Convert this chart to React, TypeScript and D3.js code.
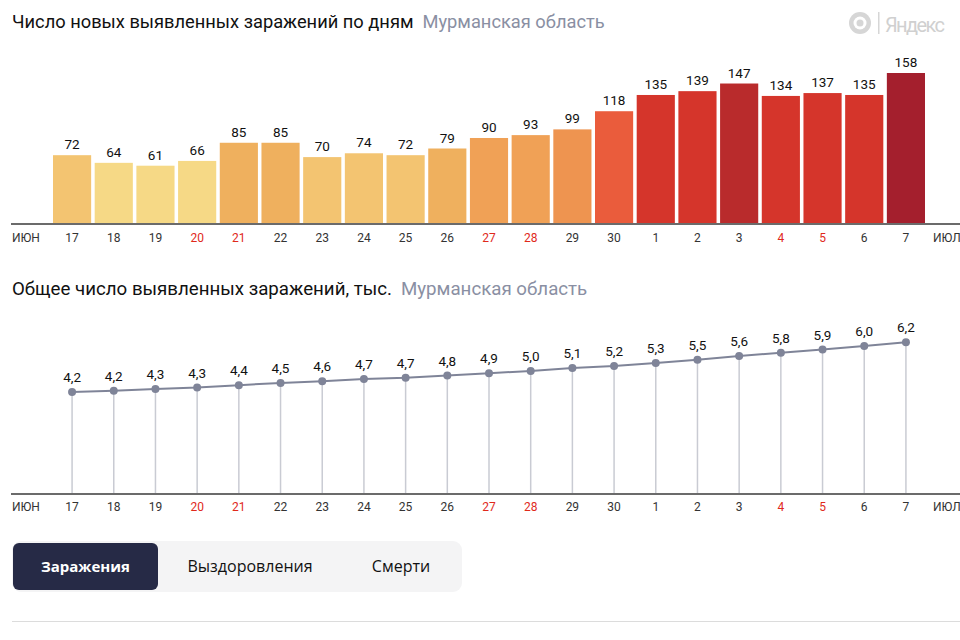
import React from "react";
import * as d3 from "d3";

const days = ["17","18","19","20","21","22","23","24","25","26","27","28","29","30","1","2","3","4","5","6","7"];
const weekend = ["20","21","27","28","4","5"];
const daily = [72,64,61,66,85,85,70,74,72,79,90,93,99,118,135,139,147,134,137,135,158];
const total = [4.16,4.21,4.28,4.34,4.44,4.53,4.60,4.69,4.74,4.83,4.93,5.02,5.14,5.22,5.34,5.48,5.63,5.76,5.89,6.04,6.19];
const colorThresholds = [67, 76, 87, 96, 110, 130, 145, 150];
const colorRange = ["#f6d986","#f3c471","#efb05e","#f0a156","#ee9450","#ea5c3c","#d5352b","#b92b2c","#a41f2d"];
const title1 = "Число новых выявленных заражений по дням";
const title2 = "Общее число выявленных заражений, тыс.";
const region = "Мурманская область";
const tabs = ["Заражения", "Выздоровления", "Смерти"];

const FONT = "Roboto, 'Open Sans', sans-serif";

export default function App() {
  const x = d3.scaleBand<string>().domain(days).range([53, 925]).paddingInner(0.085).paddingOuter(0);
  const yBar = d3.scaleLinear().domain([0, 158]).range([224, 73]);
  const yLine = d3.scaleLinear().domain([0, 6.2]).range([494, 342]);
  const color = d3.scaleThreshold<number, string>().domain(colorThresholds).range(colorRange);
  const cx = (d: string) => (x(d) as number) + x.bandwidth() / 2;
  const fmt = (v: number) => v.toFixed(1).replace(".", ",");
  const line = d3.line<number>().x((_, i) => cx(days[i])).y((v) => yLine(v));
  const tabCenters = [85.5, 250, 401];

  const axis = (y: number, labelY: number, key: string) => (
    <g key={key}>
      <line x1={11} x2={960} y1={y} y2={y} stroke="#6b6b6b" strokeWidth={2} />
      <text x={12} y={labelY} fontSize={12} fill="#333">ИЮН</text>
      <text x={933} y={labelY} fontSize={12} fill="#333">ИЮЛ</text>
      {days.map((d) => (
        <text key={d} x={cx(d)} y={labelY} fontSize={12} textAnchor="middle" fill={weekend.includes(d) ? "#e0291b" : "#333"}>{d}</text>
      ))}
    </g>
  );

  return (
    <svg width={960} height={640} style={{ position: "absolute", left: 0, top: 0, background: "#fff" }} fontFamily={FONT}>
      <rect width={960} height={640} fill="#fff" />
      <text x={12} y={28} fontSize={18.3} fill="#111">
        {title1}
        <tspan dx={9} fill="#8a8fa3">{region}</tspan>
      </text>
      <g fill="#d6d6d6">
        <circle cx={860} cy={23} r={11} />
        <circle cx={860} cy={23} r={6.5} fill="#fff" />
        <circle cx={860} cy={23} r={3.5} />
        <rect x={878} y={12} width={1.5} height={22} />
        <text x={885} y={32} fontSize={20} fill="#d0d0d0" fontFamily="'Liberation Sans Narrow', Roboto, sans-serif" textLength={60}>Яндекс</text>
      </g>
      {days.map((d, i) => (
        <g key={d}>
          <rect x={x(d)} y={yBar(daily[i])} width={x.bandwidth()} height={224 - yBar(daily[i])} fill={color(daily[i])} />
          <text x={cx(d)} y={yBar(daily[i]) - 6} fontSize={13.5} textAnchor="middle" fill="#111">{daily[i]}</text>
        </g>
      ))}
      {axis(224, 242, "a1")}

      <text x={12} y={295} fontSize={18.7} fill="#111">
        {title2}
        <tspan dx={9} fill="#8a8fa3">{region}</tspan>
      </text>
      {days.map((d, i) => (
        <line key={"v" + d} x1={cx(d)} x2={cx(d)} y1={yLine(total[i])} y2={494} stroke="#c9cbd3" strokeWidth={1.5} />
      ))}
      {axis(494, 511, "a2")}
      <path d={line(total) as string} fill="none" stroke="#7f8498" strokeWidth={2} />
      {days.map((d, i) => (
        <g key={"p" + d}>
          <circle cx={cx(d)} cy={yLine(total[i])} r={4} fill="#7f8498" />
          <text x={cx(d)} y={yLine(total[i]) - 10} fontSize={13.5} textAnchor="middle" fill="#111">{fmt(total[i])}</text>
        </g>
      ))}

      <rect x={12} y={541} width={450} height={51} rx={9} fill="#f4f4f5" />
      <rect x={13} y={543} width={145} height={47} rx={6} fill="#262a46" />
      {tabs.map((t, i) => (
        <text key={t} x={tabCenters[i]} y={572} fontSize={i === 0 ? 15 : 16} textAnchor="middle" fontWeight={i === 0 ? 700 : 400} fill={i === 0 ? "#fff" : "#111"} fontFamily="'Open Sans', sans-serif">{t}</text>
      ))}
      <line x1={12} x2={960} y1={621.5} y2={621.5} stroke="#dcdcdc" strokeWidth={1} />
    </svg>
  );
}
